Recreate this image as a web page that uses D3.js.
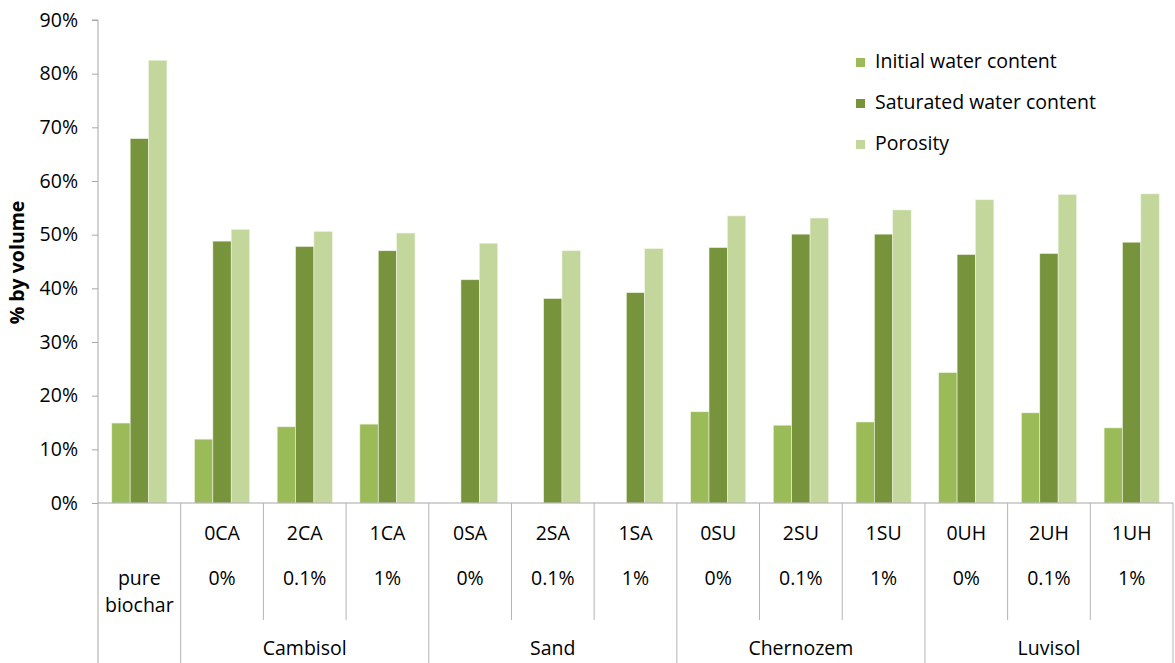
<!DOCTYPE html>
<html>
<head>
<meta charset="utf-8">
<script src="https://cdn.jsdelivr.net/npm/d3@7"></script>
<style>
  body { margin: 0; background: #fff; }
  text { font-family: "Open Sans", "Noto Sans", sans-serif; fill: #000; }
</style>
</head>
<body>
<svg id="chart" width="1175" height="663"></svg>
<script>
  // data
  var codes = ["pure biochar", "0CA", "2CA", "1CA", "0SA", "2SA", "1SA", "0SU", "2SU", "1SU", "0UH", "2UH", "1UH"];
  var doses = ["", "0%", "0.1%", "1%", "0%", "0.1%", "1%", "0%", "0.1%", "1%", "0%", "0.1%", "1%"];
  var soils = ["Cambisol", "Sand", "Chernozem", "Luvisol"];
  var seriesNames = ["Initial water content", "Saturated water content", "Porosity"];
  var colors = ["#9BBB59", "#77933C", "#C3D69B"];

  var initial   = [14.9, 11.9, 14.2, 14.7, 0, 0, 0, 17.0, 14.5, 15.1, 24.3, 16.8, 14.0];
  var saturated = [67.9, 48.8, 47.8, 47.0, 41.6, 38.1, 39.2, 47.6, 50.1, 50.1, 46.3, 46.5, 48.6];
  var porosity  = [82.5, 51.0, 50.6, 50.3, 48.4, 47.0, 47.4, 53.5, 53.1, 54.6, 56.5, 57.5, 57.6];
  var yTicks = [0, 10, 20, 30, 40, 50, 60, 70, 80, 90];

  var series = [initial, saturated, porosity];

  var svg = d3.select("#chart");
  var mLeft = 98, mRight = 1173, mTop = 20, base = 503;
  var fs = "19.5px";

  var x = d3.scaleBand().domain(d3.range(codes.length)).range([mLeft, mRight]);
  var bw = x.bandwidth();
  var xs = d3.scaleBand().domain(d3.range(3)).range([bw / 6, bw * 5 / 6]);
  var y = d3.scaleLinear().domain([0, 90]).range([base, mTop]);

  // bars
  var group = svg.selectAll("g.cat")
      .data(codes)
    .enter().append("g")
      .attr("class", "cat")
      .attr("transform", function(d, i) { return "translate(" + x(i) + ",0)"; });

  group.selectAll("rect")
      .data(function(d, i) { return series.map(function(s, k) { return { k: k, v: s[i] }; }); })
    .enter().filter(function(d) { return d.v > 0; }).append("rect")
      .attr("x", function(d) { return xs(d.k); })
      .attr("width", xs.bandwidth())
      .attr("y", function(d) { return y(d.v); })
      .attr("height", function(d) { return base - y(d.v); })
      .attr("fill", function(d) { return colors[d.k]; })
      .attr("stroke", "#eef3e2")
      .attr("stroke-width", 0.6);

  // y axis
  var yAxis = d3.axisLeft(y)
      .tickValues(yTicks)
      .tickSize(6)
      .tickPadding(14)
      .tickFormat(function(d) { return d + "%"; });

  var ya = svg.append("g")
      .attr("transform", "translate(" + mLeft + ",0)")
      .call(yAxis);
  ya.select(".domain").attr("stroke", "#a6a6a6").attr("d", "M-6," + mTop + "H0V663");
  ya.selectAll(".tick line").attr("stroke", "#a6a6a6");
  ya.selectAll(".tick text")
      .style("font-size", fs)
      .style("font-family", "'Open Sans', sans-serif")
      .attr("fill", "#000");

  svg.append("text")
      .attr("transform", "translate(24," + ((mTop + base) / 2 + 1) + ") rotate(-90)")
      .attr("text-anchor", "middle")
      .style("font-size", "19.5px")
      .style("font-weight", "bold")
      .text("% by volume");

  // x axis line
  svg.append("line")
      .attr("x1", mLeft).attr("x2", mRight)
      .attr("y1", base).attr("y2", base)
      .attr("stroke", "#a6a6a6");

  // category table lines
  svg.selectAll("line.sep")
      .data(d3.range(1, codes.length + 1))
    .enter().append("line")
      .attr("class", "sep")
      .attr("x1", function(i) { return mLeft + i * bw; })
      .attr("x2", function(i) { return mLeft + i * bw; })
      .attr("y1", base)
      .attr("y2", function(i) { return (i - 1) % 3 === 0 ? 663 : 620; })
      .attr("stroke", "#b4b4b4");

  // category labels
  group.append("text")
      .attr("x", bw / 2)
      .attr("y", function(d, i) { return i === 0 ? 585 : 540; })
      .attr("text-anchor", "middle")
      .style("font-size", fs)
      .text(function(d, i) { return i === 0 ? "pure" : d; });

  group.append("text")
      .attr("x", bw / 2)
      .attr("y", function(d, i) { return i === 0 ? 612 : 585; })
      .attr("text-anchor", "middle")
      .style("font-size", fs)
      .text(function(d, i) { return i === 0 ? "biochar" : doses[i]; });

  svg.selectAll("text.soil")
      .data(soils)
    .enter().append("text")
      .attr("class", "soil")
      .attr("x", function(d, i) { return x(1 + i * 3) + bw * 1.5; })
      .attr("y", 655)
      .attr("text-anchor", "middle")
      .style("font-size", fs)
      .text(function(d) { return d; });

  // legend
  var legend = svg.selectAll("g.legend")
      .data(seriesNames)
    .enter().append("g")
      .attr("class", "legend")
      .attr("transform", function(d, i) { return "translate(856," + (58 + i * 41) + ")"; });

  legend.append("rect")
      .attr("width", 9).attr("height", 9)
      .attr("fill", function(d, i) { return colors[i]; });

  legend.append("text")
      .attr("x", 19)
      .attr("y", 10)
      .style("font-size", fs)
      .text(function(d) { return d; });
</script>
</body>
</html>
